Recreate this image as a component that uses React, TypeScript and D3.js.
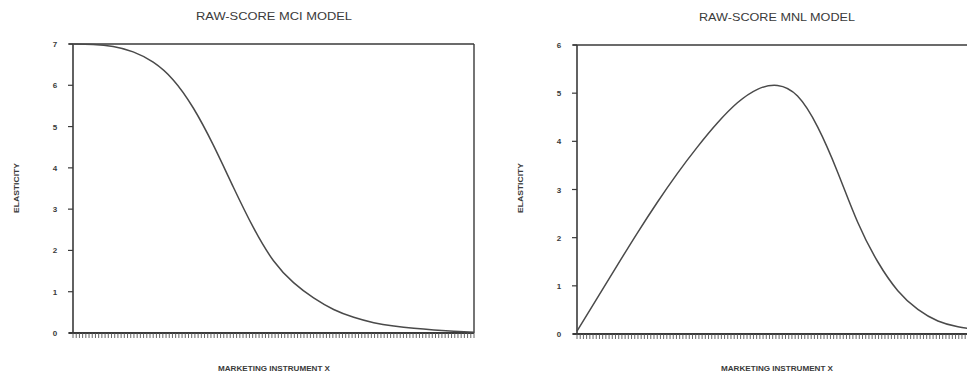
import * as d3 from "d3";
import React, { useRef, useEffect } from "react";

// marketing instrument x (0..100)
const xValues = [0, 5, 10, 15, 20, 25, 30, 35, 40, 45, 50, 55, 60, 65, 70, 75, 80, 85, 90, 95, 100];
// elasticity, raw-score MCI model
const mciElasticity = [7.0, 6.99, 6.94, 6.81, 6.56, 6.13, 5.45, 4.55, 3.53, 2.55, 1.75, 1.22, 0.85, 0.57, 0.38, 0.25, 0.17, 0.115, 0.075, 0.045, 0.02];
// elasticity, raw-score MNL model
const mnlElasticity = [0.06, 0.74, 1.42, 2.09, 2.73, 3.33, 3.88, 4.38, 4.8, 5.08, 5.16, 4.94, 4.3, 3.36, 2.32, 1.5, 0.9, 0.51, 0.27, 0.15, 0.09];

const mciTicks = [0, 1, 2, 3, 4, 5, 6, 7];
const mnlTicks = [0, 1, 2, 3, 4, 5, 6];

const W = 967;
const H = 374;
const ink = "#3a3a3a";

const panels = [
  { title: "RAW-SCORE MCI MODEL", left: 73, top: 44, bottom: 333, yMax: 7, yTicks: mciTicks, values: mciElasticity, rightBorder: true, tx: 274 },
  { title: "RAW-SCORE MNL MODEL", left: 577, top: 45, bottom: 334, yMax: 6, yTicks: mnlTicks, values: mnlElasticity, rightBorder: false, tx: 777 },
];

const App = () => {
  const ref = useRef(null);

  useEffect(() => {
    const svg = d3.select(ref.current);
    svg.selectAll("*").remove();
    const font = "'Liberation Sans', Arial, sans-serif";

    panels.forEach((p) => {
      const plotW = 401;
      const x = d3.scaleLinear().domain([0, 100]).range([p.left, p.left + plotW]);
      const y = d3.scaleLinear().domain([0, p.yMax]).range([p.bottom, p.top]);
      const g = svg.append("g");

      // title
      g.append("text")
        .attr("x", p.tx).attr("y", p.top - 24)
        .attr("text-anchor", "middle")
        .attr("font-family", font).attr("font-size", 10.5)
        .attr("textLength", 156).attr("lengthAdjust", "spacingAndGlyphs")
        .attr("fill", ink)
        .text(p.title);

      // frame: top line and optional right side
      g.append("line")
        .attr("x1", p.left - 4).attr("x2", p.rightBorder ? x(100) : W)
        .attr("y1", y(p.yMax)).attr("y2", y(p.yMax))
        .attr("stroke", ink).attr("stroke-width", 1.6);
      if (p.rightBorder) {
        g.append("line")
          .attr("x1", x(100)).attr("x2", x(100))
          .attr("y1", y(p.yMax)).attr("y2", y(0))
          .attr("stroke", ink).attr("stroke-width", 1.4);
      }

      // y axis
      g.append("line")
        .attr("x1", p.left).attr("x2", p.left)
        .attr("y1", y(p.yMax)).attr("y2", y(0))
        .attr("stroke", ink).attr("stroke-width", 1.6);
      g.selectAll(".ytick").data(p.yTicks).enter().append("line")
        .attr("x1", p.left - 5).attr("x2", p.left)
        .attr("y1", (d) => y(d)).attr("y2", (d) => y(d))
        .attr("stroke", ink).attr("stroke-width", 1.2);
      g.selectAll(".ylab").data(p.yTicks).enter().append("text")
        .attr("x", p.left - 18).attr("y", (d) => y(d) + 3)
        .attr("text-anchor", "middle")
        .attr("font-family", font).attr("font-size", 8).attr("font-weight", "bold")
        .attr("fill", ink)
        .text((d) => d);

      // x axis with dense ticks
      g.append("line")
        .attr("x1", p.left - 4).attr("x2", Math.min(x(100), W))
        .attr("y1", y(0)).attr("y2", y(0))
        .attr("stroke", ink).attr("stroke-width", 1.8);
      g.selectAll(".xtick").data(d3.range(0, 100.01, 0.8)).enter().append("line")
        .attr("x1", (d) => x(d)).attr("x2", (d) => x(d))
        .attr("y1", y(0)).attr("y2", y(0) + 5)
        .attr("stroke", "#555").attr("stroke-width", 0.9);

      // axis titles
      g.append("text")
        .attr("x", p.tx).attr("y", 371)
        .attr("text-anchor", "middle")
        .attr("font-family", font).attr("font-size", 7.5).attr("font-weight", "bold")
        .attr("textLength", 112).attr("lengthAdjust", "spacingAndGlyphs")
        .attr("fill", ink)
        .text("MARKETING INSTRUMENT X");
      const lx = p.left - 54;
      g.append("text")
        .attr("transform", `translate(${lx},188) rotate(-90)`)
        .attr("text-anchor", "middle")
        .attr("font-family", font).attr("font-size", 7.5).attr("font-weight", "bold")
        .attr("textLength", 50).attr("lengthAdjust", "spacingAndGlyphs")
        .attr("fill", ink)
        .text("ELASTICITY");

      // curve
      const line = d3.line()
        .x((d) => x(d[0]))
        .y((d) => y(d[1]))
        .curve(d3.curveNatural);
      g.append("path")
        .attr("d", line(xValues.map((v, i) => [v, p.values[i]])))
        .attr("fill", "none")
        .attr("stroke", "#4a4a4a")
        .attr("stroke-width", 1.5);
    });
  }, []);

  return (
    <svg
      ref={ref}
      width={W}
      height={H}
      style={{ position: "absolute", left: 0, top: 0, background: "#fff" }}
    />
  );
};

export default App;
